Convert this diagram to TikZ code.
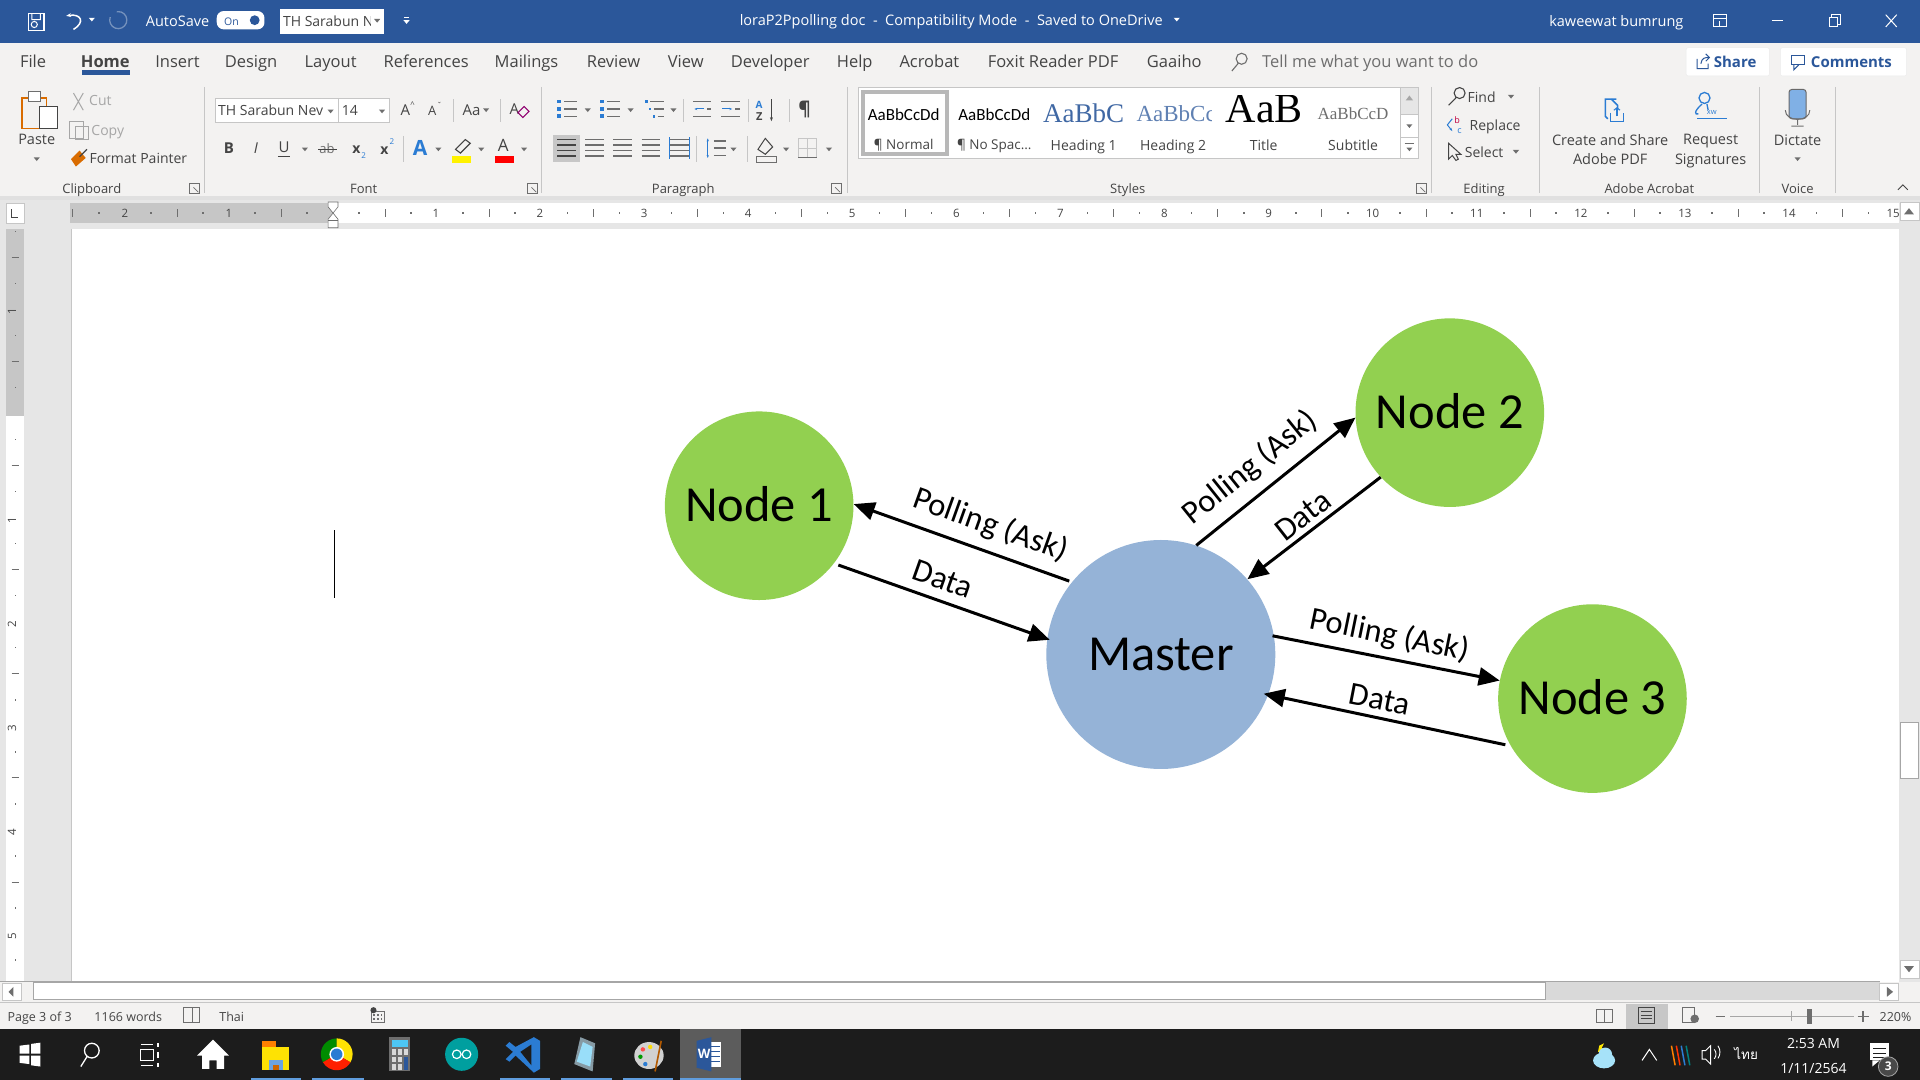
\documentclass[tikz,border=0pt]{standalone}
\usepackage{fontspec}
\setmainfont{Carlito}
\newfontfamily\ui{Open Sans}
\newfontfamily\serifui{Liberation Serif}
\newfontfamily\thaifont[Script=Thai]{Loma}
\usetikzlibrary{arrows.meta,calc}
\definecolor{titleblue}{HTML}{2B579A}
\definecolor{ribbon}{HTML}{F3F2F1}
\definecolor{pagegrey}{HTML}{E6E6E6}
\definecolor{uigrey}{HTML}{444444}
\definecolor{midgrey}{HTML}{6E6E6E}
\definecolor{lightline}{HTML}{C6C6C6}
\definecolor{dimgrey}{HTML}{A6A6A6}
\definecolor{rulerdark}{HTML}{C6C6C6}
\definecolor{taskbar}{HTML}{1C1C1C}
\definecolor{nodegreen}{HTML}{92D050}
\definecolor{masterblue}{HTML}{95B3D7}
\definecolor{iconblue}{HTML}{2B7CD3}
\definecolor{hiblue}{HTML}{2B579A}
\newcounter{uic}
\newcommand\T[4][]{\stepcounter{uic}\node[uitext,yshift=-1.9pt,#1] (ui\theuic) at (#2,#3) {\vphantom{Apg}#4};}
\newcommand\up[2][2.4pt]{\raisebox{#1}{#2}}
\tikzset{
  sz/.style={font=\ui\fontsize{#1}{#1}\selectfont},
  uitext/.style={inner sep=0pt,text=uigrey,sz=15},
  white text/.style={text=white},
  tabtext/.style={sz=16.5},
  grouptext/.style={sz=13,text=uigrey},
  circlenode/.style={circle,inner sep=0pt,font=\fontsize{50.5}{50.5}\selectfont,text=black},
  slavenode/.style={circlenode,fill=nodegreen,minimum size=188.6pt},
  masternode/.style={circlenode,fill=masterblue,minimum size=229pt},
  conn/.style={line width=3pt,-{Triangle[length=21pt,width=18pt]},black},
  edgetext/.style={inner sep=0pt,font=\fontsize{32.5}{32.5}\selectfont,text=black},
  sep/.style={draw=lightline,line width=1pt},
  tbicon/.style={draw=white,line width=1.3pt},
}
\newcommand\dd[2]{\fill[midgrey] (#1-2.5,#2-1.5) -- (#1+2.5,#2-1.5) -- (#1,#2+1.5) -- cycle;}
\newcommand\ddw[2]{\fill[white] (#1-2.5,#2-1.5) -- (#1+2.5,#2-1.5) -- (#1,#2+1.5) -- cycle;}
\newcommand\launch[2]{\draw[midgrey,line width=.7pt] (#1-4,#2-4) rectangle (#1+4,#2+4);\draw[midgrey,line width=.7pt] (#1-1,#2-1) -- (#1+3,#2+3);}
\begin{document}
\begin{tikzpicture}[x=1.22449pt,y=-1.22449pt]
\useasboundingbox (0,0) rectangle (1568,882);
% backgrounds
\fill[white] (0,0) rectangle (1568,882);
\fill[titleblue] (0,0) rectangle (1568,35);
\fill[ribbon] (0,35) rectangle (1568,162);
\fill[pagegrey] (0,162) rectangle (1568,802);
\fill[white] (58,187) rectangle (1551,802);
\draw[lightline,line width=.8pt] (58,187) -- (58,802);
\fill[black!12] (0,160) rectangle (1568,163);
% ---- title bar
\draw[tbicon] (23,11) rectangle (36,25);
\draw[tbicon,line width=1pt] (26,11) -- (26,16) -- (33,16) -- (33,11) (28,20) circle (2.5);
\draw[tbicon,line width=1.5pt,-{Stealth[length=5pt]}] (60,24) .. controls (70,18) and (66,11) .. (54,13);
\ddw{75}{16}
\draw[titleblue!65!white,line width=1.3pt] (90,14) arc (200:-100:7);
\T[white text,sz=14.5]{145}{17}{AutoSave}
\fill[white,rounded corners=7pt] (177,9) rectangle (216,24);
\T[text=titleblue,sz=10.5]{189}{17}{On}
\fill[titleblue] (208,16.5) circle (4);
\fill[white] (229,7) rectangle (314,28);
\T[sz=14,anchor=west]{231}{17}{TH Sarabun N}
\fill[white] (303,8) rectangle (313,27);
\dd{308}{17}
\ddw{332}{18}
\fill[white] (330,13.5) rectangle (334,14.5);
\T[white text,sz=14.5,anchor=west]{604}{16}{loraP2Ppolling doc\ \ -\ \ Compatibility Mode\ \ -\ \ Saved to OneDrive}
\ddw{961}{16}
\T[white text,sz=14.5]{1320}{17}{kaweewat bumrung}
\draw[tbicon,line width=1pt] (1399,12) rectangle (1410,22);
\draw[tbicon,line width=1pt] (1399,15) -- (1410,15) (1404.5,21) -- (1404.5,17);
\draw[tbicon,line width=1pt] (1447,17) -- (1456,17);
\draw[tbicon,line width=1pt] (1494,14) rectangle (1501,22);
\draw[tbicon,line width=1pt] (1496,14) -- (1496,12) -- (1503,12) -- (1503,20) -- (1501,20);
\draw[tbicon,line width=1pt] (1540,12) -- (1549,22) (1549,12) -- (1540,22);
% ---- tabs
\T[tabtext]{27}{50}{File}
\T[tabtext,font=\ui\bfseries\fontsize{16.5}{16.5}\selectfont]{86}{50}{Home}
\fill[hiblue] (67,57.5) rectangle (106,61);
\T[tabtext]{145}{50}{Insert}
\T[tabtext]{205}{50}{Design}
\T[tabtext]{270}{50}{Layout}
\T[tabtext]{348}{50}{References}
\T[tabtext]{430}{50}{Mailings}
\T[tabtext]{501}{50}{Review}
\T[tabtext]{560}{50}{View}
\T[tabtext]{629}{50}{Developer}
\T[tabtext]{698}{50}{Help}
\T[tabtext]{759}{50}{Acrobat}
\T[tabtext]{860}{50}{Foxit Reader PDF}
\T[tabtext]{959}{50}{Gaaiho}
\draw[midgrey,line width=1.1pt] (1014,48) circle (4.5) (1011,52) -- (1006,58);
\T[tabtext,text=midgrey]{1119}{50}{Tell me what you want to do}
\filldraw[fill=white,draw=black!8,rounded corners=2pt] (1377,39) rectangle (1445,62);
\filldraw[fill=white,draw=black!8,rounded corners=2pt] (1454,39) rectangle (1557,62);
\draw[hiblue,line width=1pt] (1386,48) -- (1386,56) -- (1395,56) -- (1395,52) (1389,52) .. controls (1390,47) and (1392,47) .. (1396,47) (1393,44) -- (1396,47) -- (1393,50);
\T[tabtext,text=hiblue,font=\ui\bfseries\fontsize{15}{15}\selectfont]{1417}{50.5}{Share}
\draw[hiblue,line width=1pt] (1463,45) rectangle (1474,53);
\draw[hiblue,line width=1pt] (1465,53) -- (1465,57) -- (1469,53);
\T[tabtext,text=hiblue,font=\ui\bfseries\fontsize{15}{15}\selectfont]{1512}{50.5}{Comments}
% separators
\foreach \sx in {167,442,692,1169,1257,1437,1499} \draw[sep] (\sx,71) -- (\sx,158);
% ---- clipboard
\filldraw[fill=ribbon,draw=orange!85!black,line width=1.4pt] (18,80) rectangle (38,105);
\filldraw[fill=white,draw=midgrey,line width=.8pt] (23,75) rectangle (33,83);
\filldraw[fill=white,draw=uigrey,line width=1pt] (32,87) rectangle (47,105);
\T[sz=14.5]{30}{114}{Paste}
\dd{30}{130}
\draw[dimgrey,line width=1pt] (60,76) -- (68,90) (68,76) -- (60,90);
\T[sz=14,text=dimgrey]{82}{82}{Cut}
\draw[dimgrey,line width=1pt] (57,99) rectangle (68,113) (62,103) rectangle (72,114);
\T[sz=14,text=dimgrey]{88}{106}{Copy}
\fill[orange!85!black] (58,130) -- (65,123) -- (70,129) -- (62,136) -- cycle;
\draw[uigrey,line width=1.3pt] (65,128) -- (71,122);
\T[sz=14]{113}{129}{Format Painter}
\T[grouptext]{75}{154}{Clipboard}
\launch{159}{154}
% ---- font
\filldraw[fill=white,draw=lightline,line width=.8pt] (176,80) rectangle (276,100);
\filldraw[fill=white,draw=lightline,line width=.8pt] (276,80) rectangle (318,100);
\T[sz=14,anchor=west]{178}{90}{TH Sarabun Nev}
\fill[white] (264,81) rectangle (275,99);
\dd{270}{91}
\T[sz=14,anchor=west]{279}{90}{14}
\dd{312}{91}
\T[sz=15]{331}{90}{A}\T[sz=8]{337}{85}{\^{}}
\T[sz=13]{353}{90}{A}\T[sz=8]{359}{85}{ˇ}
\T[sz=15]{385}{90}{Aa}\dd{397}{90}
\draw[lightline,line width=.7pt] (370,81) -- (370,100) (409,81) -- (409,100);
\T[sz=15]{420}{89}{A}
\draw[purple!75!blue,line width=1.1pt] (423,92) -- (428,87) -- (432,91) -- (427,96) -- cycle;
\T[font=\ui\bfseries\fontsize{15}{15}\selectfont]{187}{121}{B}
\T[font=\ui\itshape\fontsize{15}{15}\selectfont]{209}{121}{I}
\T[sz=15]{232}{120}{U}\draw[uigrey,line width=1pt] (227,128) -- (237,128);\dd{249}{122}
\T[sz=13,text=midgrey]{267}{121}{ab}\draw[uigrey,line width=1pt] (260,122) -- (275,122);
\T[font=\ui\bfseries\fontsize{14}{14}\selectfont]{291}{121}{x}\T[sz=8,text=iconblue]{297}{126}{2}
\T[font=\ui\bfseries\fontsize{14}{14}\selectfont]{314}{122}{x}\T[sz=8,text=iconblue]{320}{115}{2}
\draw[lightline,line width=.7pt] (329,111) -- (329,132);
\T[font=\ui\bfseries\fontsize{21}{21}\selectfont,text=iconblue]{343}{121}{A}\dd{358}{122}
\draw[uigrey,line width=1.1pt] (372,122) -- (380,114) -- (384,117) -- (376,125) -- cycle;
\fill[yellow] (369,127) rectangle (385,133);\dd{393}{122}
\T[sz=17]{411}{119}{A}
\fill[red] (404,127) rectangle (420,133);\dd{428}{122}
\T[grouptext]{297}{154}{Font}
\launch{435}{154}
% ---- paragraph
\foreach \q in {-6,0,6}{\fill[iconblue] (455,89+\q-1.5) rectangle (458,89+\q+1.5);\draw[midgrey,line width=1.4pt] (461,89+\q) -- (471,89+\q);}
\dd{480}{90}
\foreach \q in {-6,0,6}{\fill[iconblue] (490,89+\q-1.5) rectangle (493,89+\q+1.5);\draw[midgrey,line width=1.4pt] (496,89+\q) -- (506,89+\q);}
\dd{515}{90}
\foreach \q/\qq in {-6/0,0/3,6/6}{\fill[iconblue] (527+\qq,89+\q-1) rectangle (529+\qq,89+\q+1);\draw[midgrey,line width=1.4pt] (531+\qq,89+\q) -- (542,89+\q);}
\dd{550}{90}
\draw[lightline,line width=.7pt] (558,81) -- (558,100) (611,81) -- (611,100);
\foreach \q in {-6,0,6}{\draw[midgrey,line width=1.3pt] (566,89+\q) -- (581,89+\q);\draw[midgrey,line width=1.3pt] (589,89+\q) -- (604,89+\q);}
\fill[ribbon] (566,86) rectangle (577,92);\fill[ribbon] (589,86) rectangle (600,92);
\draw[iconblue,line width=1pt,-{Stealth[length=3pt]}] (575,89) -- (567,89);
\draw[iconblue,line width=1pt,-{Stealth[length=3pt]}] (590,89) -- (598,89);
\T[font=\ui\bfseries\fontsize{10}{10}\selectfont,text=iconblue]{620}{85}{A}
\T[font=\ui\bfseries\fontsize{11}{11}\selectfont,text=uigrey]{620}{95}{Z}
\draw[uigrey,line width=1.1pt,-{Stealth[length=4pt]}] (630,81) -- (630,99);
\draw[lightline,line width=.7pt] (645,81) -- (645,100);
\T[font=\ui\bfseries\fontsize{19}{19}\selectfont]{657}{89}{¶}
\fill[black!22] (452,110) rectangle (474,132);
\foreach \q in {-7,-2.5,2,6.5}{\draw[uigrey,line width=1.4pt] (455,121+\q) -- (470,121+\q);
  \draw[midgrey,line width=1.4pt] (478,121+\q) -- (493,121+\q);
  \draw[midgrey,line width=1.4pt] (501,121+\q) -- (516,121+\q);
  \draw[midgrey,line width=1.4pt] (524,121+\q) -- (539,121+\q);}
\foreach \q in {-7,-2.5,2,6.5}{\draw[midgrey,line width=1.4pt] (547,121+\q) -- (563,121+\q);}
\draw[iconblue,line width=.9pt] (547,112) -- (547,130) (563,112) -- (563,130);
\draw[lightline,line width=.7pt] (569,111) -- (569,132) (610,111) -- (610,132);
\draw[iconblue,line width=1.1pt,{Stealth[length=3pt]}-{Stealth[length=3pt]}] (578,113) -- (578,129);
\foreach \q in {-6,0,6}{\draw[midgrey,line width=1.4pt] (583,121+\q) -- (593,121+\q);}
\dd{599}{122}
\draw[uigrey,line width=1pt] (619,122) -- (625,113) -- (631,120) -- (625,126) -- cycle;
\draw[midgrey,line width=.8pt] (618,128) rectangle (634,133);
\dd{642}{122}
\draw[lightline,line width=1pt] (652,113) rectangle (667,129) (659.5,113) -- (659.5,129) (652,121) -- (667,121);
\draw[midgrey,line width=1pt] (652,129) -- (667,129);
\dd{677}{122}
\T[grouptext]{558}{154}{Paragraph}
\launch{683}{154}
% ---- styles
\filldraw[fill=white,draw=lightline,line width=.8pt] (701,71) rectangle (1158,129);
\draw[black!28,line width=4pt] (705,75) rectangle (773,126);
\T[font=\fontsize{17}{17}\selectfont,text=black]{738}{93}{AaBbCcDd}
\T[sz=13.5]{738}{118}{¶ Normal}
\T[font=\fontsize{17}{17}\selectfont,text=black]{812}{93}{AaBbCcDd}
\T[sz=13.5]{812}{118}{¶ No Spac...}
\T[font=\serifui\fontsize{27}{27}\selectfont,text=hiblue!90!white]{885}{93}{AaBbC}
\T[sz=14]{885}{118}{Heading 1}
\begin{scope}
\clip (926,75) rectangle (989,112);
\T[font=\serifui\fontsize{23}{23}\selectfont,text=hiblue!75!white,anchor=west]{928}{93}{AaBbCcDd}
\end{scope}
\T[sz=14]{958}{118}{Heading 2}
\begin{scope}
\clip (998,78) rectangle (1063,112);
\T[font=\serifui\fontsize{42}{42}\selectfont,text=black,anchor=west]{1001}{90}{AaBb}
\end{scope}
\T[sz=14]{1032}{118}{Title}
\T[font=\serifui\fontsize{17}{17}\selectfont,text=midgrey]{1105}{93}{AaBbCcD}
\T[sz=14]{1105}{118}{Subtitle}
\fill[pagegrey] (1144,72) rectangle (1158,93);
\draw[lightline,line width=.7pt] (1144,71) -- (1144,129) (1144,93) -- (1158,93) (1144,112) -- (1158,112);
\fill[dimgrey] (1148,82) -- (1154,82) -- (1151,78) -- cycle;
\dd{1151}{103}
\draw[midgrey,line width=.8pt] (1147,117) -- (1155,117);\dd{1151}{122}
\T[grouptext]{921}{154}{Styles}
\launch{1161}{154}
% ---- editing
\draw[uigrey,line width=1.1pt] (1192,76) circle (4.5) (1189,80) -- (1183,86);
\T[sz=14]{1210}{79}{Find}\dd{1234}{79}
\T[sz=9,text=purple]{1190}{97}{b}\T[sz=9,text=iconblue]{1192}{106}{c}
\draw[iconblue,line width=1pt,-{Stealth[length=3pt]}] (1186,97) -- (1182,102) -- (1186,107);
\T[sz=14]{1221}{102}{Replace}
\draw[uigrey,line width=1pt] (1183,117) -- (1183,130) -- (1186,127) -- (1189,131) -- (1191,130) -- (1189,126) -- (1193,126) -- cycle;
\T[sz=14]{1212}{124}{Select}\dd{1238}{124}
\T[grouptext]{1212}{154}{Editing}
% ---- acrobat
\draw[iconblue,line width=1.5pt] (1320,81) -- (1311,81) -- (1311,95) -- (1313,97);
\draw[iconblue,line width=1.5pt] (1316,81) -- (1321,86) -- (1321,90);
\draw[iconblue,line width=1.4pt] (1315,92) -- (1315,99) -- (1326,99) -- (1326,92) (1320.5,95) -- (1320.5,88);
\draw[iconblue,line width=1pt] (1318,90) -- (1320.5,88) -- (1323,90);
\T[sz=14.5]{1315}{114}{Create and Share}
\T[sz=14.5]{1315}{130}{Adobe PDF}
\draw[iconblue,line width=1.3pt] (1392,80) circle (4.5);
\draw[iconblue,line width=1.3pt] (1390,85) .. controls (1383,91) and (1384,94) .. (1387,93) (1394,85) -- (1395,90);
\T[sz=7.5,text=iconblue]{1398}{90.5}{xw}
\fill[iconblue] (1386,96) rectangle (1410,97.5);
\T[sz=14.5]{1397}{114}{Request}
\T[sz=14.5]{1397}{130}{Signatures}
\T[grouptext]{1347}{154}{Adobe Acrobat}
% ---- voice
\filldraw[fill=iconblue!60!white,draw=uigrey!80,line width=1pt,rounded corners=3pt] (1461,73) rectangle (1475,97);
\draw[midgrey,line width=1pt] (1458,90) .. controls (1458,100) and (1478,100) .. (1478,90) (1468,98) -- (1468,102) (1463,103) -- (1473,103);
\T[sz=14.5]{1468}{114}{Dictate}
\dd{1468}{130}
\T[grouptext]{1468}{154}{Voice}
\draw[uigrey,line width=1pt] (1550,155) -- (1554,151) -- (1558,155);
% ---- horizontal ruler
\fill[white] (57,166) rectangle (1551,182);
\fill[rulerdark] (57,166) rectangle (272,182);
\filldraw[fill=white,draw=lightline,line width=.6pt] (5,166) rectangle (20,182);
\draw[uigrey,line width=1pt] (9,171) -- (9,178) -- (15,178);
\foreach \n in {0,...,70}{
  \pgfmathsetmacro\rx{59.5+21.25*\n}
  \pgfmathtruncatemacro\md{mod(\n,4)}
  \ifnum\md=0 \draw[midgrey,line width=.8pt] (\rx,171) -- (\rx,177);\fi
  \ifnum\md=1 \fill[midgrey] (\rx-.6,173.4) rectangle (\rx+.6,174.6);\fi
  \ifnum\md=3 \fill[midgrey] (\rx-.6,173.4) rectangle (\rx+.6,174.6);\fi
}
\T[sz=11.5]{102}{174}{2}
\T[sz=11.5]{187}{174}{1}
\foreach \n in {1,...,15}{\pgfmathtruncatemacro\rn{\n}\pgfmathsetmacro\rx{271+85*\n}
  \fill[white] (\rx-7,167) rectangle (\rx+7,181);
  \T[sz=11.5]{\rx}{174}{\rn}}
\filldraw[fill=white,draw=midgrey,line width=.6pt] (268,165) -- (276,165) -- (276,169) -- (272,174) -- (268,169) -- cycle;
\filldraw[fill=white,draw=midgrey,line width=.6pt] (272,174) -- (276,179) -- (276,186) -- (268,186) -- (268,179) -- cycle;
\draw[midgrey,line width=.6pt] (268,180) -- (276,180);
% ---- vertical ruler
\fill[white] (5,187) rectangle (20,802);
\fill[rulerdark] (5,187) rectangle (20,340);
\foreach \n in {0,...,28}{
  \pgfmathsetmacro\ry{189+21.25*\n}
  \pgfmathtruncatemacro\md{mod(\n,4)}
  \ifnum\md=1 \draw[midgrey,line width=.8pt] (9.5,\ry) -- (15.5,\ry);\fi
  \ifnum\md=0 \fill[midgrey] (11.9,\ry-.6) rectangle (13.1,\ry+.6);\fi
  \ifnum\md=2 \fill[midgrey] (11.9,\ry-.6) rectangle (13.1,\ry+.6);\fi
}
\T[sz=11.5,rotate=90,yshift=1.9pt]{12.5}{253}{1}
\T[sz=11.5,rotate=90,yshift=1.9pt]{12.5}{423}{1}
\T[sz=11.5,rotate=90,yshift=1.9pt]{12.5}{508}{2}
\T[sz=11.5,rotate=90,yshift=1.9pt]{12.5}{593}{3}
\T[sz=11.5,rotate=90,yshift=1.9pt]{12.5}{678}{4}
\T[sz=11.5,rotate=90,yshift=1.9pt]{12.5}{763}{5}
% ---- cursor
\draw[black,line width=1.2pt] (273,433) -- (273,488);
% ---- scrollbars
\fill[pagegrey] (1551,165) rectangle (1568,802);
\filldraw[fill=white,draw=lightline,line width=.6pt] (1552,165) rectangle (1567,180);
\fill[midgrey] (1555,175) -- (1563,175) -- (1559,170) -- cycle;
\filldraw[fill=white,draw=dimgrey,line width=.8pt] (1552,590) rectangle (1567,636);
\filldraw[fill=white,draw=lightline,line width=.6pt] (1552,784) rectangle (1567,799);
\fill[midgrey] (1555,789) -- (1563,789) -- (1559,794) -- cycle;
\fill[ribbon] (0,802) rectangle (1568,818);
\fill[black!15] (1262,802) rectangle (1535,817);
\draw[dimgrey,line width=1pt] (0,801.5) -- (1535,801.5);
\filldraw[fill=white,draw=lightline,line width=.6pt] (2,803) rectangle (17,817);
\fill[midgrey] (11,806) -- (11,814) -- (7,810) -- cycle;
\filldraw[fill=white,draw=dimgrey,line width=1pt] (27,802.5) rectangle (1262,816);
\filldraw[fill=white,draw=lightline,line width=.6pt] (1535,803) rectangle (1550,817);
\fill[midgrey] (1541,806) -- (1541,814) -- (1546,810) -- cycle;
% ---- status bar
\fill[ribbon] (0,819) rectangle (1568,840);
\draw[lightline,line width=1pt] (0,818.5) -- (1568,818.5);
\T[sz=12.5,anchor=west]{6}{830}{Page 3 of 3}
\T[sz=12.5,anchor=west]{77}{830}{1166 words}
\draw[midgrey,line width=.9pt] (150,823) rectangle (163,835) (157,823) -- (157,835);
\T[sz=12.5,anchor=west]{179}{830}{Thai}
\draw[midgrey,line width=.9pt] (303,826) rectangle (314,835);
\fill[uigrey] (305,825) circle (2.5);
\foreach \px in {305.5,308.5,311.5}\foreach \py in {829,832}{\fill[midgrey] (\px-.7,\py-.7) rectangle (\px+.7,\py+.7);}
\draw[midgrey,line width=.9pt] (1304,824) rectangle (1317,835) (1310.5,824) -- (1310.5,835);
\fill[black!22] (1328,820) rectangle (1362,840);
\draw[uigrey,line width=.9pt] (1338,823) rectangle (1351,836);
\foreach \q in {826,829,832}{\draw[uigrey,line width=.7pt] (1340,\q) -- (1349,\q);}
\draw[midgrey,line width=.9pt] (1374,823) rectangle (1384,835);
\fill[midgrey] (1384,832) circle (3.5);
\draw[midgrey,line width=1.6pt] (1401,830) -- (1409,830);
\draw[dimgrey,line width=1pt] (1413,830) -- (1514,830);
\draw[dimgrey,line width=.8pt] (1463,826) -- (1463,834);
\fill[midgrey] (1476,824) rectangle (1480,836);
\draw[midgrey,line width=1.6pt] (1517,830) -- (1526,830) (1521.5,825.5) -- (1521.5,834.5);
\T[sz=12.5]{1548}{830}{220\%}
% ---- taskbar
\fill[taskbar] (0,840) rectangle (1568,882);
\fill[white!28!taskbar] (555,840) rectangle (605,880);
\foreach \ax/\bx in {205/246,255/297,408/449,458/500,509/550,555/605}{\fill[iconblue!75!white] (\ax,880) rectangle (\bx,882);}
% windows
\fill[white] (16,854) -- (24,853) -- (24,860.5) -- (16,860.5) -- cycle;
\fill[white] (25.5,852.5) -- (33,851.5) -- (33,860.5) -- (25.5,860.5) -- cycle;
\fill[white] (16,862) -- (24,862) -- (24,869) -- (16,868) -- cycle;
\fill[white] (25.5,862) -- (33,862) -- (33,871) -- (25.5,870) -- cycle;
% search, task view
\draw[white,line width=1.3pt] (75,858) circle (6) (71,863) -- (66,871);
\draw[white,line width=1.1pt] (115,857) rectangle (125,866) (115,853) -- (125,853) (115,870) -- (125,870) (129,852) -- (129,855) (129,859) -- (129,864) (129,868) -- (129,871);
% home
\fill[white] (174,849) -- (187,862) -- (183,862) -- (183,873) -- (177,873) -- (177,866) -- (171,866) -- (171,873) -- (165,873) -- (165,862) -- (161,862) -- cycle;
% explorer
\fill[yellow!85!orange] (214,855) rectangle (236,874);
\fill[orange] (214,850) rectangle (225,855);
\fill[iconblue!70!white] (220,866) rectangle (231,874);
\fill[orange!80!black] (223,870) rectangle (228,874);
% chrome
\fill[green!55!black] (275,861) -- ++(150:13) arc (150:270:13) -- cycle;
\fill[yellow!85!orange] (275,861) -- ++(270:13) arc (270:390:13) -- cycle;
\fill[red!75!orange] (275,861) -- ++(30:13) arc (30:150:13) -- cycle;
\fill[white] (275,861) circle (6);
\fill[iconblue] (275,861) circle (4.7);
% calc
\fill[midgrey] (318,847) rectangle (335,875);
\fill[cyan!70!white] (320,849) rectangle (333,855);
\foreach \cx in {320,325,330}\foreach \cy in {857,863,869}{\fill[black!15] (\cx,\cy) rectangle (\cx+3.5,\cy+4.5);}
\fill[hiblue] (330,863) rectangle (333.5,873.5);
% arduino
\fill[teal!75!cyan] (377,861) circle (13.5);
\draw[white,line width=1.2pt] (373,861) circle (3.5) (381,861) circle (3.5);
% vscode
\fill[iconblue] (436,847) -- (441,850) -- (441,873) -- (436,876) -- (421,862) -- (416,867) -- (413,865) -- (419,859) -- (413,854) -- (416,851) -- (421,855) -- cycle;
\fill[taskbar] (425,859) -- (434,853) -- (434,870) -- cycle;
% notepad
\fill[cyan!20!gray] (469,869) -- (474,847) -- (486,852) -- (484,875) -- cycle;
\fill[cyan!40!white] (471,867) -- (476,851) -- (484,855) -- (482,871) -- cycle;
% paint
\fill[black!18] (530,862) ellipse (12 and 11);
\fill[red!70!white] (525,857) circle (1.8);
\fill[yellow!80!orange] (531,855) circle (1.8);
\fill[green!60!black] (523,863) circle (1.8);
\fill[iconblue] (527,869) circle (1.8);
\draw[orange!70!black,line width=1.6pt] (535,875) -- (540,850);
% word
\fill[white] (577,851) rectangle (589,871);
\foreach \q in {855,859,863,867}{\draw[hiblue,line width=1pt] (579,\q) -- (588,\q);}
\fill[hiblue] (569,850) -- (581,847) -- (581,875) -- (569,872) -- cycle;
\T[white text,font=\ui\bfseries\fontsize{13}{13}\selectfont]{575}{860}{W}
% tray
\fill[yellow!90!orange] (1306,854) -- (1310,852) -- (1308,856) -- (1313,858) -- (1305,859) -- cycle;
\fill[cyan!35!white] (1310,866) ellipse (9 and 6.5);
\fill[cyan!35!white] (1311,861) circle (5.5);
\draw[white,line width=1pt] (1341,866) -- (1347,857) -- (1353,866);
\foreach \vx/\vc in {1365/orange,1369/red!60!orange,1373/iconblue,1377/teal}{\draw[\vc,line width=1.5pt] (\vx,854) -- (\vx+3,870);}
\draw[white,line width=.9pt] (1390,858) -- (1393,858) -- (1397,854) -- (1397,869) -- (1393,865) -- (1390,865) -- cycle;
\draw[white,line width=.9pt] (1400,857) arc (-40:40:6) (1403,854) arc (-35:35:9);
\T[white text,font=\thaifont\fontsize{13.5}{13.5}\selectfont]{1426}{860}{ไทย}
\T[white text,sz=14]{1481}{852}{2:53 AM}
\T[white text,sz=14]{1481}{872}{1/11/2564}
\fill[white] (1527,852) rectangle (1543,866);
\fill[white] (1529,866) -- (1529,871) -- (1535,866) -- cycle;
\foreach \q in {856,860,864}{\draw[taskbar,line width=1pt] (1530,\q) -- (1540,\q);}
\filldraw[fill=taskbar!80!white,draw=white!60!taskbar,line width=.8pt] (1542,871) circle (8);
\T[white text,font=\ui\bfseries\fontsize{12}{12}\selectfont]{1542}{870}{3}
% ---- diagram
\node[slavenode] (n1) at (620,413) {\up[3.4pt]{Node 1}};
\node[slavenode] (n2) at (1184,337) {\up{Node 2}};
\node[slavenode] (n3) at (1300.5,570.5) {\up[3.4pt]{Node 3}};
\node[masternode] (m) at (948,534.5) {\up[.4pt]{Master}};
\draw[conn] ([shift={(-2,-1)}]m.141) -- (n1.1.5);
\draw[conn] ([shift={(3,2)}]n1.-37) -- ([shift={(2,1)}]m.172.5);
\draw[conn] (m.72.5) -- (n2.183.7);
\draw[conn] (n2.-137) -- (m.41);
\draw[conn] ([shift={(-1,1)}]m.10.6) -- (n3.169);
\draw[conn] ([shift={(-3,1.5)}]n3.208) -- ([shift={(-4,0)}]m.-20);
\node[edgetext,rotate=-19.7] (l1) at (809,429) {Polling (Ask)};
\node[edgetext,rotate=-19.5] (l2) at (770,473) {Data};
\node[edgetext,rotate=38.7] (l3) at (1021,382) {Polling (Ask)};
\node[edgetext,rotate=38] (l4) at (1064,421) {Data};
\node[edgetext,rotate=-11.5] (l5) at (1135,519) {Polling (Ask)};
\node[edgetext,rotate=-11] (l6) at (1127,571) {Data};
\end{tikzpicture}
\end{document}
